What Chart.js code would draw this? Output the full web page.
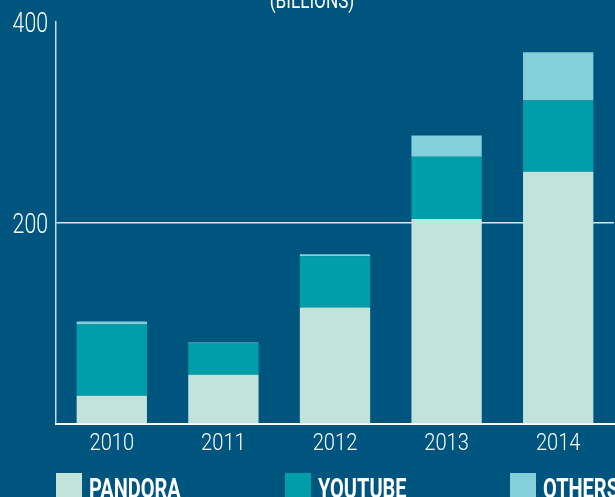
<!DOCTYPE html>
<html>
<head>
<meta charset="utf-8">
<script src="https://cdn.jsdelivr.net/npm/chart.js@4/dist/chart.umd.min.js"></script>
<style>
  html, body { margin: 0; padding: 0; background: #00557f; }
  #wrap { width: 615px; height: 497px; position: relative; }
</style>
</head>
<body>
<div id="wrap"><canvas id="c"></canvas></div>
<script>
const categories = ['2010', '2011', '2012', '2013', '2014'];
const pandora = [28, 49, 116, 204, 251];
const youtube = [71, 31, 51, 62, 71];
const others = [3, 1, 2, 21, 48];
const seriesLabels = ['PANDORA', 'YOUTUBE', 'OTHERS'];
const yTicks = [200, 400];
const titleText = '(BILLIONS)';

const BG = '#00557f';
const COLORS = ['#c2e3da', '#009ea8', '#84d0da'];
const TXT = '#ffffff';
const FONT = 'Roboto, "DejaVu Sans Condensed", sans-serif';

function condensedText(ctx, text, x, y, font, sx, align) {
  ctx.save();
  ctx.font = font;
  const w = ctx.measureText(text).width * sx;
  let left = x;
  if (align === 'center') left = x - w / 2;
  else if (align === 'right') left = x - w;
  ctx.translate(left, y);
  ctx.scale(sx, 1);
  ctx.textAlign = 'left';
  ctx.textBaseline = 'alphabetic';
  ctx.fillText(text, 0, 0);
  ctx.restore();
}

const overlay = {
  id: 'overlay',
  beforeDraw(chart) {
    const ctx = chart.ctx;
    ctx.save();
    ctx.fillStyle = BG;
    ctx.fillRect(0, 0, chart.width, chart.height);
    ctx.restore();
  },
  afterDraw(chart) {
    const ctx = chart.ctx;
    const xs = chart.scales.x, ys = chart.scales.y;
    ctx.save();
    ctx.fillStyle = TXT;
    // y tick labels from the scale
    ys.ticks.forEach(t => {
      if (t.value === 0) return;
      const py = ys.getPixelForValue(t.value);
      condensedText(ctx, String(t.value), ys.right - 8, py + 10, '300 28px ' + FONT, 0.76, 'right');
    });
    // x tick labels from the scale
    chart.data.labels.forEach((lab, i) => {
      const px = xs.getPixelForTick(i);
      condensedText(ctx, lab, px, xs.top + 26, '300 24.5px ' + FONT, 0.82, 'center');
    });
    // title (cut at top)
    condensedText(ctx, titleText, 312, 8, '400 22px ' + FONT, 0.78, 'center');
    // legend
    const starts = [56, 285, 510];
    const box = 26;
    const boxTop = 473;
    chart.data.datasets.forEach((ds, i) => {
      ctx.fillStyle = ds.backgroundColor;
      ctx.fillRect(starts[i], boxTop, box, 30);
      ctx.fillStyle = TXT;
      condensedText(ctx, ds.label, starts[i] + box + 7, 498, 'bold 27px ' + FONT, 0.74, 'left');
    });
    ctx.restore();
  }
};

new Chart(document.getElementById('c'), {
  type: 'bar',
  data: {
    labels: categories,
    datasets: [
      { label: seriesLabels[0], data: pandora, backgroundColor: COLORS[0] },
      { label: seriesLabels[1], data: youtube, backgroundColor: COLORS[1] },
      { label: seriesLabels[2], data: others, backgroundColor: COLORS[2] }
    ]
  },
  options: {
    responsive: true,
    maintainAspectRatio: false,
    animation: false,
    layout: { padding: { top: 22, right: 1, left: 0, bottom: 0 } },
    datasets: { bar: { categoryPercentage: 1, barPercentage: 0.63, borderWidth: 0 } },
    plugins: { legend: { display: false }, tooltip: { enabled: false }, title: { display: false } },
    scales: {
      x: {
        stacked: true,
        grid: { display: false, drawTicks: false },
        border: { display: true, color: '#ffffff', width: 2 },
        ticks: { display: false },
        afterFit(scale) { scale.height = 73; }
      },
      y: {
        stacked: true,
        min: 0,
        max: 400,
        z: 1,
        afterBuildTicks(scale) { scale.ticks = [0].concat(yTicks).map(v => ({ value: v })); },
        grid: {
          drawTicks: false,
          color: ctx => (ctx.tick && ctx.tick.value === 200) ? 'rgba(235,245,250,0.9)' : 'rgba(0,0,0,0)',
          lineWidth: 1.5
        },
        border: { display: true, color: 'rgba(235,245,250,0.85)', width: 1.5 },
        ticks: { display: false },
        afterFit(scale) { scale.width = 56; }
      }
    }
  },
  plugins: [overlay]
});
</script>
</body>
</html>
